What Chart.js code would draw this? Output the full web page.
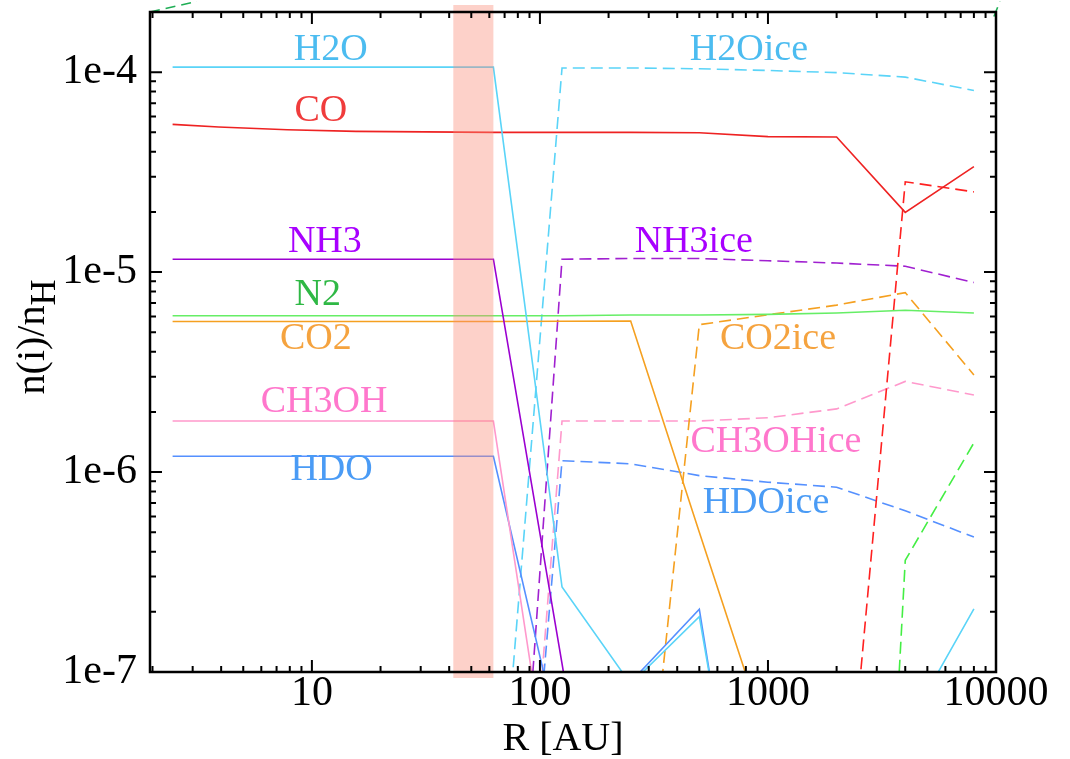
<!DOCTYPE html>
<html>
<head>
<meta charset="utf-8">
<script src="https://cdn.jsdelivr.net/npm/chart.js@4.4.0/dist/chart.umd.min.js"></script>
<style>
  html, body { margin: 0; padding: 0; background: #fff; }
</style>
</head>
<body>
<canvas id="abund" width="1070" height="759"></canvas>
<script>
// radial grid [AU]
const R = [2.45, 3.9, 7.8, 15.6, 31.25, 62.5, 125, 250, 500, 1000, 2000, 4000, 8000];

// gas phase abundances n(i)/nH
const H2O   = [1.06e-4, 1.06e-4, 1.06e-4, 1.06e-4, 1.06e-4, 1.06e-4, 2.66e-7, 8.7e-8, 1.89e-7, 2e-9, 1e-9, 5.1e-8, 2.07e-7];
const CO    = [5.48e-5, 5.32e-5, 5.15e-5, 5.06e-5, 5.03e-5, 5.0e-5, 5.0e-5, 5.0e-5, 4.98e-5, 4.76e-5, 4.74e-5, 1.99e-5, 3.37e-5];
const NH3   = [1.16e-5, 1.16e-5, 1.16e-5, 1.16e-5, 1.16e-5, 1.16e-5, 1.1e-7, 1e-9, 1e-9, 1e-9, 1e-9, 1e-9, 1e-9];
const N2    = [6.05e-6, 6.05e-6, 6.05e-6, 6.05e-6, 6.05e-6, 6.05e-6, 6.05e-6, 6.1e-6, 6.1e-6, 6.15e-6, 6.25e-6, 6.45e-6, 6.24e-6];
const CO2   = [5.66e-6, 5.66e-6, 5.66e-6, 5.66e-6, 5.66e-6, 5.66e-6, 5.68e-6, 5.7e-6, 5.0e-7, 4.5e-8, 1e-9, 1e-9, 1e-9];
const CH3OH = [1.8e-6, 1.8e-6, 1.8e-6, 1.8e-6, 1.8e-6, 1.8e-6, 1e-8, 1e-9, 1e-9, 1e-9, 1e-9, 1e-9, 1e-9];
const HDO   = [1.2e-6, 1.2e-6, 1.2e-6, 1.2e-6, 1.2e-6, 1.2e-6, 4e-8, 8.9e-8, 2.06e-7, 1.5e-9, 1e-9, 1e-9, 1e-9];

// ice abundances
const H2Oice   = [1e-10, 1e-10, 1e-10, 1e-10, 1e-10, 6.4e-9, 1.05e-4, 1.05e-4, 1.04e-4, 1.02e-4, 9.95e-5, 9.45e-5, 8.1e-5];
const COice    = [1e-10, 1e-10, 1e-10, 1e-10, 1e-10, 1e-10, 1e-10, 1e-10, 1e-10, 1e-10, 4.7e-9, 2.83e-5, 2.52e-5];
const NH3ice   = [1e-11, 1e-11, 1e-11, 1e-11, 1e-11, 1.6e-10, 1.16e-5, 1.17e-5, 1.17e-5, 1.14e-5, 1.11e-5, 1.07e-5, 8.87e-6];
const N2ice    = [1e-13, 1e-13, 1e-13, 1e-13, 1e-13, 1e-13, 1e-13, 1e-13, 1e-13, 1e-13, 1.6e-13, 3.62e-7, 1.4e-6];
const CO2ice   = [1e-10, 1e-10, 1e-10, 1e-10, 1e-10, 1e-10, 1e-10, 3e-9, 5.46e-6, 6.12e-6, 6.84e-6, 7.9e-6, 3.06e-6];
const CH3OHice = [1e-11, 1e-11, 1e-11, 1e-11, 1e-11, 8e-11, 1.8e-6, 1.8e-6, 1.8e-6, 1.87e-6, 2.07e-6, 2.84e-6, 2.43e-6];
const HDOice   = [1e-11, 1e-11, 1e-11, 1e-11, 1e-11, 1e-10, 1.14e-6, 1.1e-6, 9.6e-7, 8.9e-7, 8.4e-7, 6.4e-7, 4.73e-7];

// stray dashed segments leaving the frame at the top corners
const strayX = [1.95, 3.13, 5000, 9790, 10410];
const strayY = [2.0e-4, 2.26e-4, null, 1.9e-4, 2.26e-4];

// shaded radius band [AU]
const bandR = [41.7, 62.5];

// axis ticks
const xMajor = [10, 100, 1000, 10000];
const yMajor = [1e-7, 1e-6, 1e-5, 1e-4];

// in-plot species labels
const labelText = ['H2O', 'CO', 'NH3', 'N2', 'CO2', 'CH3OH', 'HDO',
                   'H2Oice', 'NH3ice', 'CO2ice', 'CH3OHice', 'HDOice'];
const labelR    = [12.1, 10.95, 11.4, 10.6, 10.4, 11.3, 12.2, 825, 473, 1107, 1084, 980];
const labelN    = [1.29e-4, 6.39e-5, 1.42e-5, 7.7e-6, 4.65e-6, 2.23e-6, 1.02e-6,
                   1.29e-4, 1.42e-5, 4.65e-6, 1.41e-6, 6.97e-7];
const labelColor = ['#4cbcf0', '#f03c3c', '#a800ff', '#2fb845', '#f5a33f', '#ff77cc', '#4a9bf5',
                    '#4cbcf0', '#a800ff', '#f5a33f', '#ff77cc', '#4a9bf5'];

const SERIF = '"Liberation Serif", "Times New Roman", serif';

function pts(arr, xs) {
    return (xs || R).map((r, i) => ({ x: r, y: arr[i] }));
}

function series(label, arr, color, dashed) {
    return {
        label,
        data: pts(arr),
        borderColor: color,
        borderWidth: 1.6,
        borderDash: dashed ? [12, 6] : [],
        pointRadius: 0,
        fill: false,
        tension: 0,
    };
}

// frame, inward ticks, shaded band, annotations and axis titles
const decor = {
    id: 'decor',
    afterDatasetsDraw(chart) {
        const { ctx, chartArea: a, scales: { x } } = chart;
        const x0 = x.getPixelForValue(bandR[0]);
        const x1 = x.getPixelForValue(bandR[1]);
        ctx.save();
        ctx.fillStyle = 'rgba(250,140,120,0.4)';
        ctx.fillRect(x0, a.top - 7, x1 - x0, a.bottom - a.top + 13);
        ctx.restore();
    },
    afterDraw(chart) {
        const { ctx, chartArea: a, scales: { x, y } } = chart;
        ctx.save();

        // frame
        ctx.strokeStyle = '#000';
        ctx.lineWidth = 2.5;
        ctx.strokeRect(a.left, a.top, a.right - a.left, a.bottom - a.top);

        // ticks
        ctx.lineWidth = 2;
        ctx.beginPath();
        for (let k = 0; k <= 3; k++) {
            for (let d = 1; d <= 9; d++) {
                const v = d * Math.pow(10, k);
                if (v < x.min || v > x.max) continue;
                const px = x.getPixelForValue(v);
                const len = d === 1 ? 12 : 6;
                ctx.moveTo(px, a.bottom); ctx.lineTo(px, a.bottom - len);
                ctx.moveTo(px, a.top); ctx.lineTo(px, a.top + len);
            }
        }
        if (x.max >= 10000) {
            const px = x.getPixelForValue(10000);
            ctx.moveTo(px, a.bottom); ctx.lineTo(px, a.bottom - 12);
        }
        for (let k = -7; k <= -4; k++) {
            for (let d = 1; d <= 9; d++) {
                const v = d * Math.pow(10, k);
                if (v < y.min * 0.999 || v > y.max) continue;
                const py = y.getPixelForValue(v);
                const len = d === 1 ? 12 : 6;
                ctx.moveTo(a.left, py); ctx.lineTo(a.left + len, py);
                ctx.moveTo(a.right, py); ctx.lineTo(a.right - len, py);
            }
        }
        ctx.stroke();

        // species labels
        ctx.font = '38px ' + SERIF;
        ctx.textAlign = 'center';
        ctx.textBaseline = 'middle';
        labelText.forEach((t, i) => {
            ctx.fillStyle = labelColor[i];
            ctx.fillText(t, x.getPixelForValue(labelR[i]), y.getPixelForValue(labelN[i]));
        });

        // axis titles
        ctx.fillStyle = '#000';
        ctx.textBaseline = 'alphabetic';
        ctx.font = '40px ' + SERIF;
        ctx.fillText('R [AU]', 563, 750);

        ctx.translate(44, 337);
        ctx.rotate(-Math.PI / 2);
        const mainFont = '40px ' + SERIF, subFont = '36px ' + SERIF;
        ctx.font = mainFont;
        const wMain = ctx.measureText('n(i)/n').width;
        ctx.font = subFont;
        const wSub = ctx.measureText('H').width;
        const start = -(wMain + wSub) / 2;
        ctx.textAlign = 'left';
        ctx.font = mainFont;
        ctx.fillText('n(i)/n', start, 0);
        ctx.font = subFont;
        ctx.fillText('H', start + wMain, 11);

        ctx.restore();
    }
};

const ctx = document.getElementById('abund');

new Chart(ctx, {
    type: 'line',
    data: {
        datasets: [
            series('H2O', H2O, '#5ad4f8', false),
            series('CO', CO, '#ee2222', false),
            series('NH3', NH3, '#9b00d0', false),
            series('N2', N2, '#66ee66', false),
            series('CO2', CO2, '#f5a020', false),
            series('CH3OH', CH3OH, '#ff99cc', false),
            series('HDO', HDO, '#5590ff', false),
            series('H2Oice', H2Oice, '#5ad4f8', true),
            series('COice', COice, '#ff2020', true),
            series('NH3ice', NH3ice, '#a020d0', true),
            series('N2ice', N2ice, '#44ee44', true),
            series('CO2ice', CO2ice, '#f5a020', true),
            series('CH3OHice', CH3OHice, '#ff99cc', true),
            series('HDOice', HDOice, '#5590ff', true),
            {
                label: 'stray',
                data: pts(strayY, strayX),
                borderColor: '#1fae55',
                borderWidth: 1.6,
                borderDash: [10, 6],
                pointRadius: 0,
                spanGaps: false,
                clip: false,
            },
        ],
    },
    options: {
        responsive: false,
        animation: false,
        layout: { padding: { top: 12, right: 74, left: 0, bottom: 0 } },
        plugins: {
            legend: { display: false },
            tooltip: { enabled: false },
        },
        scales: {
            x: {
                type: 'logarithmic',
                min: 1.95,
                max: 10000,
                grid: { display: false, drawTicks: false },
                border: { display: false },
                afterBuildTicks: s => { s.ticks = xMajor.map(v => ({ value: v })); },
                afterFit: s => { s.height = 87; s.paddingLeft = 0; s.paddingRight = 0; },
                ticks: {
                    color: '#000',
                    font: { family: SERIF, size: 42, lineHeight: 1 },
                    padding: 1,
                    maxRotation: 0,
                    autoSkip: false,
                    callback: v => String(v),
                },
            },
            y: {
                type: 'logarithmic',
                min: 1e-7,
                max: 2e-4,
                grid: { display: false, drawTicks: false },
                border: { display: false },
                afterBuildTicks: s => { s.ticks = yMajor.map(v => ({ value: v })); },
                afterFit: s => { s.width = 150; s.paddingTop = 0; s.paddingBottom = 0; },
                ticks: {
                    color: '#000',
                    font: { family: SERIF, size: 42, lineHeight: 1 },
                    padding: 13,
                    autoSkip: false,
                    callback: v => '1e' + Math.round(Math.log10(v)),
                },
            },
        },
    },
    plugins: [decor],
});
</script>
</body>
</html>
